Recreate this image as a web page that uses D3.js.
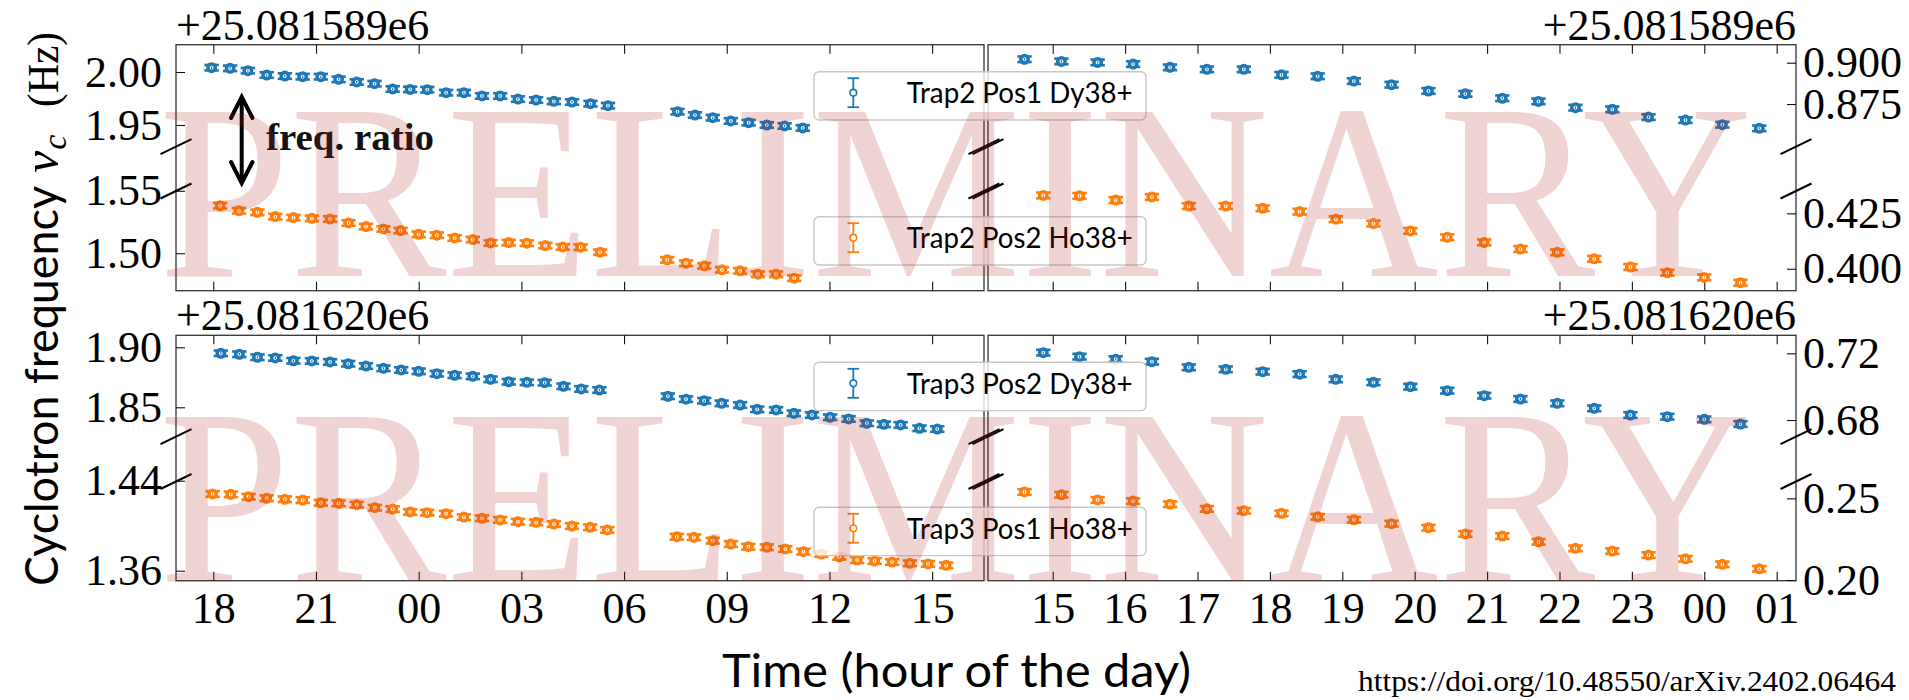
<!DOCTYPE html>
<html><head><meta charset="utf-8">
<script src="https://cdn.jsdelivr.net/npm/d3@7"></script>
<style>body{margin:0;background:#fff}svg{display:block}</style>
</head><body>
<svg id="c" width="1909" height="700"></svg>
<script>
// ---------------- DATA (hours since day-1 00:00; frequency offsets in Hz) ----------------
const t2DyLeftTime = [17.95,18.49,19.01,19.56,20.09,20.61,21.14,21.66,22.19,22.71,23.24,23.75,24.25,24.80,25.32,25.85,26.38,26.90,27.43,27.95,28.48,29.02,29.53,31.56,32.07,32.59,33.12,33.64,34.17,34.69,35.22];
const t2DyLeftFreq = [2.0041,2.0035,2.0013,1.9972,1.9962,1.9956,1.9956,1.9931,1.9906,1.9890,1.9840,1.9836,1.9833,1.9805,1.9805,1.9774,1.9774,1.9745,1.9736,1.9723,1.9717,1.9701,1.9682,1.9626,1.9594,1.9569,1.9538,1.9522,1.9500,1.9491,1.9472];
const t2HoLeftTime = [18.20,18.75,19.29,19.81,20.34,20.88,21.41,21.95,22.46,22.97,23.47,24.00,24.53,25.05,25.58,26.10,26.63,27.16,27.70,28.21,28.73,29.30,31.26,31.81,32.34,32.86,33.39,33.91,34.44,34.97];
const t2HoLeftFreq = [1.5380,1.5340,1.5327,1.5293,1.5285,1.5279,1.5274,1.5242,1.5213,1.5194,1.5181,1.5151,1.5144,1.5122,1.5109,1.5082,1.5085,1.5080,1.5061,1.5050,1.5048,1.5008,1.4947,1.4920,1.4899,1.4867,1.4859,1.4832,1.4832,1.4800];
const t2DyRightTime = [14.61,15.12,15.62,16.11,16.62,17.13,17.64,18.16,18.66,19.16,19.68,20.19,20.70,21.21,21.71,22.22,22.73,23.23,23.74,24.25,24.76];
const t2DyRightFreq = [0.9021,0.9008,0.9002,0.8992,0.8972,0.8960,0.8960,0.8927,0.8918,0.8889,0.8867,0.8829,0.8812,0.8785,0.8766,0.8728,0.8718,0.8671,0.8653,0.8625,0.8603];
const t2HoRightTime = [14.87,15.37,15.87,16.37,16.88,17.39,17.90,18.41,18.91,19.43,19.94,20.45,20.96,21.46,21.97,22.48,22.98,23.49,24.00,24.50];
const t2HoRightFreq = [0.4331,0.4329,0.4310,0.4324,0.4283,0.4283,0.4273,0.4258,0.4224,0.4204,0.4171,0.4142,0.4119,0.4089,0.4074,0.4045,0.4008,0.3982,0.3961,0.3937];

const t3DyLeftTime = [18.22,18.76,19.29,19.81,20.34,20.88,21.41,21.94,22.46,22.97,23.49,24.00,24.53,25.05,25.58,26.10,26.63,27.16,27.68,28.23,28.75,29.28,31.28,31.81,32.34,32.85,33.39,33.89,34.44,34.96,35.49,36.02,36.56,37.09,37.59,38.08,38.63,39.15];
const t3DyLeftFreq = [1.8950,1.8942,1.8917,1.8911,1.8888,1.8886,1.8878,1.8863,1.8844,1.8825,1.8811,1.8800,1.8780,1.8767,1.8758,1.8733,1.8713,1.8708,1.8705,1.8675,1.8653,1.8644,1.8592,1.8568,1.8555,1.8533,1.8519,1.8483,1.8478,1.8450,1.8436,1.8417,1.8403,1.8367,1.8358,1.8353,1.8325,1.8319];
const t3HoLeftTime = [17.98,18.51,19.03,19.56,20.09,20.61,21.14,21.66,22.19,22.72,23.24,23.75,24.25,24.80,25.32,25.85,26.38,26.90,27.43,27.95,28.48,29.01,29.51,31.54,32.04,32.59,33.12,33.63,34.17,34.71,35.24,35.76,36.29,36.81,37.32,37.83,38.35,38.88,39.41];
const t3HoLeftFreq = [1.4282,1.4279,1.4258,1.4244,1.4235,1.4228,1.4204,1.4199,1.4187,1.4160,1.4148,1.4122,1.4116,1.4107,1.4077,1.4066,1.4051,1.4036,1.4030,1.4015,1.3997,1.3986,1.3962,1.3902,1.3897,1.3867,1.3837,1.3813,1.3808,1.3793,1.3769,1.3748,1.3724,1.3695,1.3686,1.3677,1.3666,1.3660,1.3648];
const t3DyRightTime = [14.87,15.37,15.87,16.37,16.88,17.39,17.90,18.41,18.91,19.43,19.94,20.45,20.96,21.46,21.97,22.48,22.98,23.49,24.00,24.50];
const t3DyRightFreq = [0.7204,0.7180,0.7165,0.7150,0.7116,0.7104,0.7090,0.7075,0.7044,0.7026,0.7000,0.6976,0.6946,0.6926,0.6900,0.6870,0.6830,0.6820,0.6804,0.6776];
const t3HoRightTime = [14.61,15.12,15.62,16.11,16.62,17.13,17.64,18.16,18.66,19.16,19.68,20.19,20.70,21.21,21.71,22.22,22.73,23.23,23.74,24.25,24.76];
const t3HoRightFreq = [0.2539,0.2522,0.2490,0.2483,0.2464,0.2436,0.2424,0.2408,0.2387,0.2369,0.2345,0.2320,0.2282,0.2269,0.2234,0.2194,0.2177,0.2153,0.2130,0.2096,0.2069];

// uncertainty (Hz) per series
const errT2 = [0.0026, 0.0022, 0.0017, 0.0013];
const errT3 = [0.0023, 0.0025, 0.0017, 0.0017];

// tick values / labels
const leftHourTicks = [18,21,24,27,30,33,36,39];
const leftHourLabels = ["18","21","00","03","06","09","12","15"];
const rightHourTicks = [15,16,17,18,19,20,21,22,23,24,25];
const rightHourLabels = ["15","16","17","18","19","20","21","22","23","00","01"];
const t2LeftUpperTicks = [1.95, 2.00];
const t2LeftLowerTicks = [1.50, 1.55];
const t2RightUpperTicks = [0.875, 0.900];
const t2RightLowerTicks = [0.400, 0.425];
const t3LeftUpperTicks = [1.85, 1.90];
const t3LeftLowerTicks = [1.36, 1.44];
const t3RightUpperTicks = [0.68, 0.72];
const t3RightLowerTicks = [0.20, 0.25];
const offsetLabels = ["+25.081589e6", "+25.081620e6"];
const legendLabels = ["Trap2 Pos1 Dy38+", "Trap2 Pos2 Ho38+", "Trap3 Pos2 Dy38+", "Trap3 Pos1 Ho38+"];

// ---------------- LAYOUT ----------------
const BLUE = "#1f77b4", ORANGE = "#ff7f0e";
const SERIF = "'Liberation Serif', 'DejaVu Serif', serif";
const SANS = "Lato, 'Open Sans', sans-serif";
const svg = d3.select("#c");
const LX = [176, 984], RX = [988, 1796];
const xL = d3.scaleLinear().domain([16.91, 40.515]).range(LX);
const xR = d3.scaleLinear().domain([14.106, 25.267]).range(RX);

const blocks = [
  {top:44.7, ub:146.7, lt:191, bottom:290.7, offset:offsetLabels[0], showX:false,
   subs:[
    {x:xL, side:"L", y0:44.7, y1:146.7, dom:[1.9295,2.0258], ticks:t2LeftUpperTicks, fmt:".2f", t:t2DyLeftTime, v:t2DyLeftFreq, c:BLUE, e:errT2[0]},
    {x:xL, side:"L", y0:191, y1:290.7, dom:[1.470,1.5498], ticks:t2LeftLowerTicks, fmt:".2f", t:t2HoLeftTime, v:t2HoLeftFreq, c:ORANGE, e:errT2[1]},
    {x:xR, side:"R", y0:44.7, y1:146.7, dom:[0.8492,0.9109], ticks:t2RightUpperTicks, fmt:".3f", t:t2DyRightTime, v:t2DyRightFreq, c:BLUE, e:errT2[2]},
    {x:xR, side:"R", y0:191, y1:290.7, dom:[0.3901,0.4351], ticks:t2RightLowerTicks, fmt:".3f", t:t2HoRightTime, v:t2HoRightFreq, c:ORANGE, e:errT2[3]}
   ]},
  {top:335.3, ub:436.7, lt:481.5, bottom:580.7, offset:offsetLabels[1], showX:true,
   subs:[
    {x:xL, side:"L", y0:335.3, y1:436.7, dom:[1.8255,1.91], ticks:t3LeftUpperTicks, fmt:".2f", t:t3DyLeftTime, v:t3DyLeftFreq, c:BLUE, e:errT3[0]},
    {x:xL, side:"L", y0:481.5, y1:580.7, dom:[1.3511,1.4393], ticks:t3LeftLowerTicks, fmt:".2f", t:t3HoLeftTime, v:t3HoLeftFreq, c:ORANGE, e:errT3[1]},
    {x:xR, side:"R", y0:335.3, y1:436.7, dom:[0.67,0.7308], ticks:t3RightUpperTicks, fmt:".2f", t:t3DyRightTime, v:t3DyRightFreq, c:BLUE, e:errT3[2]},
    {x:xR, side:"R", y0:481.5, y1:580.7, dom:[0.1996,0.2603], ticks:t3RightLowerTicks, fmt:".2f", t:t3HoRightTime, v:t3HoRightFreq, c:ORANGE, e:errT3[3]}
   ]}
];

function styleAxis(g){
  g.select(".domain").remove();
  g.attr("font-family", SERIF).attr("font-size", 44).attr("color", "#111");
  g.selectAll(".tick line").attr("stroke-width", 1.1);
  g.selectAll(".tick text").attr("fill", "#000");
  g.selectAll(".tick text").filter(function(){ return this.textContent === ""; }).remove();
}

const axesG = svg.append("g");
const pointsG = svg.append("g");

blocks.forEach(b => {
  [LX, RX].forEach(xr => {
    axesG.append("rect").attr("x", xr[0]).attr("y", b.top).attr("width", xr[1]-xr[0]).attr("height", b.bottom-b.top)
      .attr("fill", "none").attr("stroke", "#333").attr("stroke-width", 1.3);
  });
  [[xL, leftHourTicks, leftHourLabels], [xR, rightHourTicks, rightHourLabels]].forEach(([xs, tv, tl]) => {
    axesG.append("g").attr("transform", `translate(0,${b.top})`)
      .call(d3.axisTop(xs).tickValues(tv).tickSize(-9).tickFormat("")).call(styleAxis);
    axesG.append("g").attr("transform", `translate(0,${b.bottom})`)
      .call(d3.axisBottom(xs).tickValues(tv).tickSize(-9).tickPadding(11).tickFormat((d,i) => b.showX ? tl[i] : ""))
      .call(styleAxis);
  });
  axesG.append("text").attr("x", LX[0]).attr("y", b.top - 5).attr("font-family", SERIF).attr("font-size", 44).text(b.offset);
  axesG.append("text").attr("x", RX[1]).attr("y", b.top - 5).attr("text-anchor", "end").attr("font-family", SERIF).attr("font-size", 44).text(b.offset);

  b.subs.forEach(s => {
    const ys = d3.scaleLinear().domain(s.dom).range([s.y1, s.y0]);
    if (s.side === "L") {
      axesG.append("g").attr("transform", `translate(${LX[0]},0)`)
        .call(d3.axisLeft(ys).tickValues(s.ticks).tickSize(-9).tickPadding(14).tickFormat(d3.format(s.fmt))).call(styleAxis);
    } else {
      axesG.append("g").attr("transform", `translate(${RX[1]},0)`)
        .call(d3.axisRight(ys).tickValues(s.ticks).tickSize(-9).tickPadding(7).tickFormat(d3.format(s.fmt))).call(styleAxis);
    }
    const pts = pointsG.append("g").selectAll("g").data(d3.zip(s.t, s.v)).join("g")
      .attr("transform", d => `translate(${s.x(d[0])},${ys(d[1])})`);
    pts.append("line").attr("x1", 0).attr("x2", 0)
      .attr("y1", d => ys(d[1] + s.e) - ys(d[1])).attr("y2", d => ys(d[1] - s.e) - ys(d[1]))
      .attr("stroke", s.c).attr("stroke-width", 1.8);
    [1, -1].forEach(sg => {
      pts.append("line").attr("x1", -7.2).attr("x2", 7.2)
        .attr("y1", d => ys(d[1] + sg*s.e) - ys(d[1])).attr("y2", d => ys(d[1] + sg*s.e) - ys(d[1]))
        .attr("stroke", s.c).attr("stroke-width", 2.6);
    });
    pts.append("circle").attr("r", 3.7).attr("fill", "#fff").attr("stroke", s.c).attr("stroke-width", 3.6);
    pts.append("line").attr("x1", 0).attr("x2", 0).attr("y1", -1.2).attr("y2", 1.2)
      .attr("stroke", s.c).attr("stroke-width", 1.2);
  });

  [b.ub, b.lt].forEach(yb => {
    [LX[0], LX[1], RX[0], RX[1]].forEach(xb => {
      axesG.append("line").attr("x1", xb-15.5).attr("y1", yb+7.5).attr("x2", xb+15.5).attr("y2", yb-7.5)
        .attr("stroke", "#000").attr("stroke-width", 2);
    });
  });
});

// legends
const legendBoxes = [
  {y:71.7, c:BLUE, label:legendLabels[0]},
  {y:216.7, c:ORANGE, label:legendLabels[1]},
  {y:362.3, c:BLUE, label:legendLabels[2]},
  {y:507.3, c:ORANGE, label:legendLabels[3]}
];
const legG = svg.append("g");
legendBoxes.forEach(l => {
  const g = legG.append("g").attr("transform", `translate(814,${l.y})`);
  g.append("rect").attr("width", 332).attr("height", 48.3).attr("rx", 5)
    .attr("fill", "#fff").attr("fill-opacity", 0.8).attr("stroke", "#c8c8c8").attr("stroke-width", 1.4);
  const cy = 21;
  g.append("line").attr("x1", 39.3).attr("x2", 39.3).attr("y1", cy-14.5).attr("y2", cy+14.5).attr("stroke", l.c).attr("stroke-width", 1.8);
  [-14.5, 14.5].forEach(o => g.append("line").attr("x1", 33.5).attr("x2", 45.1).attr("y1", cy+o).attr("y2", cy+o).attr("stroke", l.c).attr("stroke-width", 1.8));
  g.append("circle").attr("cx", 39.3).attr("cy", cy).attr("r", 3.3).attr("fill", "#fff").attr("stroke", l.c).attr("stroke-width", 1.6);
  g.append("text").attr("x", 92.7).attr("y", 31.6).attr("font-family", SANS).attr("font-size", 28.5)
    .attr("textLength", 226).attr("lengthAdjust", "spacingAndGlyphs").text(l.label);
});

// freq. ratio annotation
const arrow = svg.append("g").attr("stroke", "#000").attr("stroke-width", 4).attr("fill", "none").attr("stroke-linecap", "round");
arrow.append("line").attr("x1", 241.7).attr("x2", 241.7).attr("y1", 98).attr("y2", 182);
arrow.append("polyline").attr("points", "231,118 241.7,97 252.5,118");
arrow.append("polyline").attr("points", "231,162 241.7,183 252.5,162");
svg.append("text").attr("x", 266).attr("y", 150).attr("font-family", SERIF).attr("font-weight", "bold")
  .attr("font-size", 37).attr("textLength", 168).attr("lengthAdjust", "spacingAndGlyphs").attr("fill", "#111").text("freq. ratio");

// axis labels
svg.append("text").attr("x", 956.5).attr("y", 687).attr("text-anchor", "middle").attr("font-family", SANS)
  .attr("font-size", 46).attr("textLength", 469).attr("lengthAdjust", "spacingAndGlyphs").text("Time (hour of the day)");
svg.append("text").attr("transform", "translate(58,586) rotate(-90)").attr("font-family", SANS)
  .attr("font-size", 46).attr("textLength", 400).attr("lengthAdjust", "spacingAndGlyphs").text("Cyclotron frequency");
const nu = svg.append("text").attr("transform", "translate(58,173) rotate(-90)").attr("font-family", SERIF).attr("font-size", 50);
nu.append("tspan").attr("font-style", "italic").text("ν");
nu.append("tspan").attr("font-style", "italic").attr("font-size", 34).attr("dy", 8).attr("dx", 1).text("c");
svg.append("text").attr("transform", "translate(58,107) rotate(-90)").attr("font-family", SERIF).attr("font-size", 44)
  .attr("textLength", 75).attr("lengthAdjust", "spacingAndGlyphs").text("(Hz)");

// doi
svg.append("text").attr("x", 1896).attr("y", 691).attr("text-anchor", "end").attr("font-family", SERIF)
  .attr("font-size", 30).attr("textLength", 538).attr("lengthAdjust", "spacingAndGlyphs").text("https://doi.org/10.48550/arXiv.2402.06464");

// watermark
[276, 581].forEach(yb => {
  svg.append("text").attr("x", 159).attr("y", yb).attr("font-family", SERIF).attr("font-size", 251)
    .attr("textLength", 1593).attr("lengthAdjust", "spacingAndGlyphs")
    .attr("fill", "#b22222").attr("fill-opacity", 0.2).text("PRELIMINARY");
});
</script>
</body></html>
